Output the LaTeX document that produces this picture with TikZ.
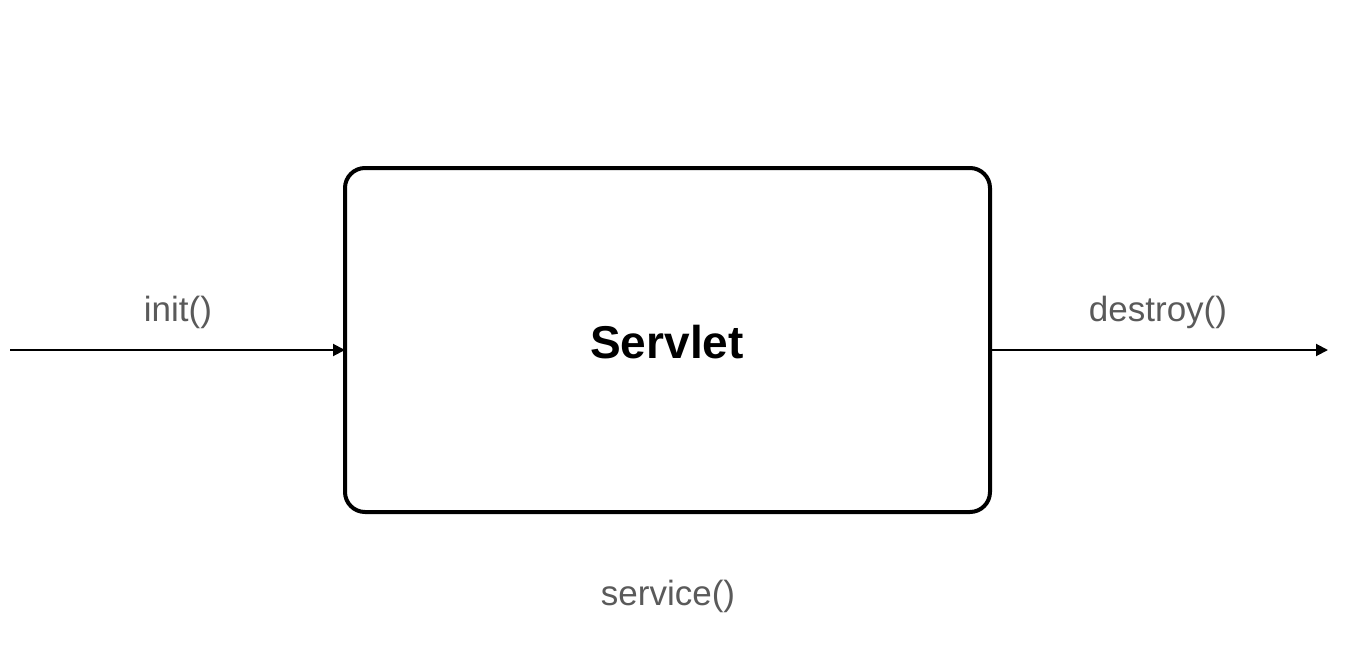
\documentclass[tikz,border=0pt]{standalone}
\usepackage{fontspec}
\setmainfont{Liberation Sans}
\usetikzlibrary{arrows.meta}
\definecolor{labelgray}{HTML}{5A5A5A}
\begin{document}
\begin{tikzpicture}[x=0.5pt,y=-0.5pt,
  servletbox/.style={draw=black,line width=2pt,rounded corners=10pt,fill=white},
  lbl/.style={text=labelgray,font=\fontsize{17.5}{20}\selectfont,inner sep=0pt},
  conn/.style={line width=1pt,-{Triangle[length=6pt,width=6pt]}}]
\useasboundingbox (0,0) rectangle (1372,648);
\draw[servletbox] (345,168) rectangle (990,512);
\coordinate (boxW) at (345,350);
\coordinate (boxE) at (990,350);
\node[font=\fontsize{23}{26}\selectfont\bfseries,inner sep=0pt] (servlet) at (667,342) {Servlet};
\coordinate (start) at (10,350);
\coordinate (finish) at (1328,350);
\draw[conn] (start) -- (boxW);
\draw[conn] (boxE) -- (finish);
\node[lbl] (init) at (178,312) {init()};
\node[lbl] (destroy) at (1158,312) {destroy()};
\node[lbl] (service) at (668,596) {service()};
\end{tikzpicture}
\end{document}
